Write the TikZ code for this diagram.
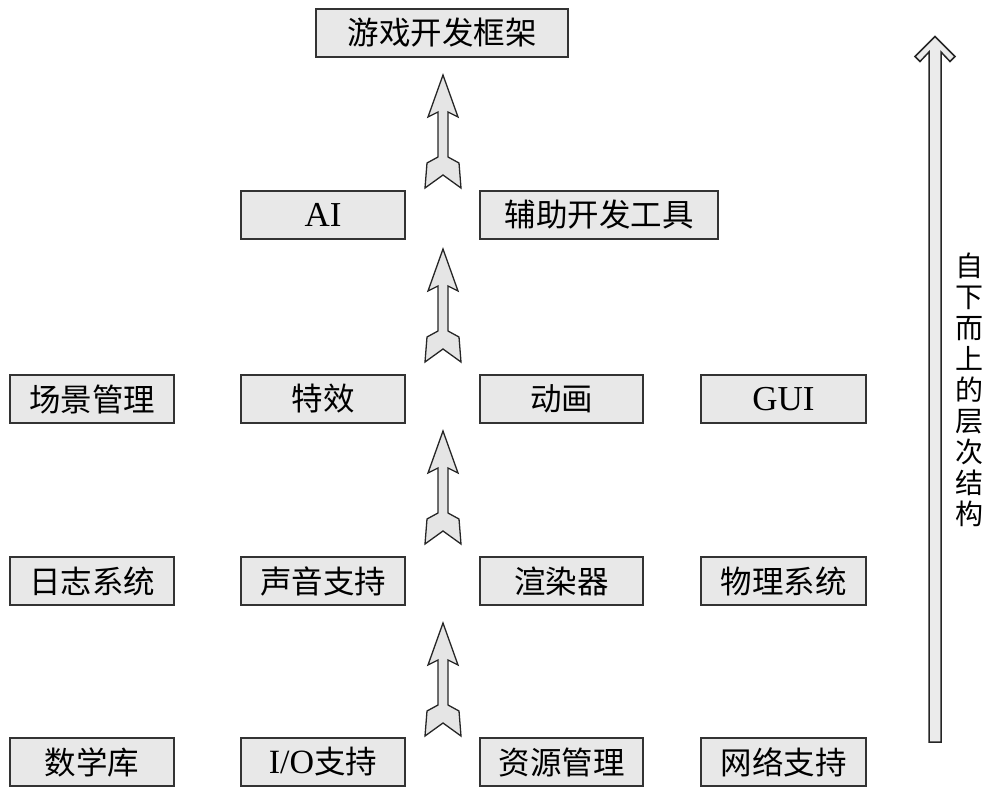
\documentclass[tikz,border=0pt]{standalone}
\usepackage{fontspec}
\setmainfont{Liberation Serif}
\newfontfamily\cjk{Noto Sans CJK SC}
\begin{document}
\begin{tikzpicture}[x=1pt,y=-1pt,
  box/.style={draw=black!80, line width=1.6pt, fill=black!9, inner sep=0pt,
    font=\fontsize{31.5}{33}\selectfont\cjk},
  latin/.style={font=\fontsize{35}{37}\selectfont\rmfamily},
  blockarrow/.pic={\draw[line width=1.3pt, fill=black!10, draw=black!85, line join=miter]
    (0,0) -- (15,42) -- (5,37) -- (5,82) -- (16,88) -- (18,113) -- (0,100)
    -- (-18,113) -- (-16,88) -- (-5,82) -- (-5,37) -- (-15,42) -- cycle;}]
\useasboundingbox (0,0) rectangle (988,787);
\newcommand\bx[7][]{\node[box,#1, minimum width=#4-#3, minimum height=48]
  (#2) at ({(#3+#4)/2},#5) {#6#7};}
% row 1
\bx{top}{316}{568}{33}{}{游戏开发框架}
% row 2
\bx[latin]{ai}{241}{405}{215}{}{AI}
\bx{tool}{480}{718}{215}{}{辅助开发工具}
% row 3
\bx{scene}{10}{174}{399}{}{场景管理}
\bx{fx}{241}{405}{399}{}{特效}
\bx{anim}{480}{643}{399}{}{动画}
\bx[latin]{gui}{701}{866}{399}{}{GUI}
% row 4
\bx{log}{10}{174}{581}{}{日志系统}
\bx{sound}{241}{405}{581}{}{声音支持}
\bx{render}{480}{643}{581}{}{渲染器}
\bx{phys}{701}{866}{581}{}{物理系统}
% row 5
\bx{math}{10}{174}{762}{}{数学库}
\bx{io}{241}{405}{762}{{\fontsize{34}{36}\selectfont\rmfamily I/O}}{支持}
\bx{res}{480}{643}{762}{}{资源管理}
\bx{net}{701}{866}{762}{}{网络支持}
% block arrows between rows
\coordinate (a1) at (443,75);
\coordinate (a2) at (443,249);
\coordinate (a3) at (443,431);
\coordinate (a4) at (443,623);
\foreach \c in {a1,a2,a3,a4} \pic at (\c) {blockarrow};
% big right arrow
\coordinate (bigtip) at (935,36.5);
\draw[line width=1.5pt, draw=black!85, fill=black!8, line join=miter]
  (929,742) -- (929,52) -- (920,61.5) -- (915,56.5) -- (bigtip) -- (955,56.5)
  -- (950,61.5) -- (941,52) -- (941,742) -- cycle;
\node[font=\fontsize{28}{31}\selectfont\cjk, align=center, inner sep=0pt] (side) at (969,390)
  {自\\下\\而\\上\\的\\层\\次\\结\\构};
\end{tikzpicture}
\end{document}
